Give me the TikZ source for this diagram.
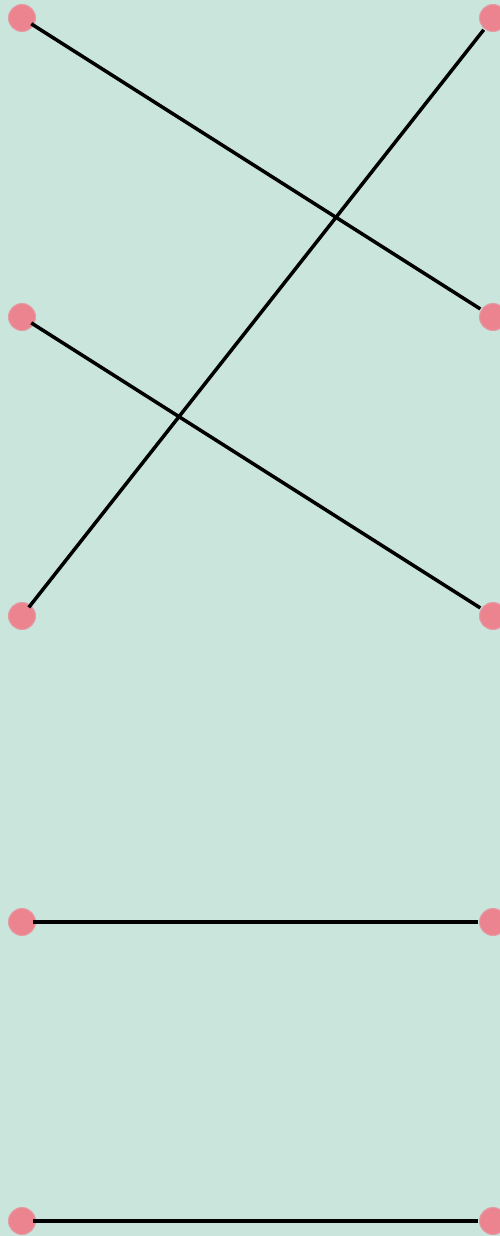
\documentclass[tikz,border=0pt]{standalone}
\usepackage{xcolor}
\usepackage{tikz}
\definecolor{mintbg}{HTML}{CAE6DC}
\definecolor{dotpink}{HTML}{EC8490}

\begin{document}
\begin{tikzpicture}[
  x=1pt, y=-1pt,
  dot/.style={circle, fill=dotpink, draw=dotpink!75!mintbg, line width=1pt, minimum size=27pt, inner sep=0pt},
  link/.style={line width=3.5pt, black, shorten <=11pt, shorten >=15pt}
]

  % Background
  \fill[mintbg] (0,0) rectangle (500,1236);
  \useasboundingbox (0,0) rectangle (500,1236);

  % Left and right columns of dots
  \foreach \i/\y in {1/18, 2/317, 3/616, 4/922, 5/1221} {
    \node (l\i) [dot] at (22,\y) {};
    \node (r\i) [dot] at (493,\y) {};
  }

  % Links
  \draw[link] (l1.center) -- (r2.center);
  \draw[link] (l2.center) -- (r3.center);
  \draw[link] (l3.center) -- (r1.center);
  \draw[link] (l4.center) -- (r4.center);
  \draw[link] (l5.center) -- (r5.center);

\end{tikzpicture}
\end{document}
